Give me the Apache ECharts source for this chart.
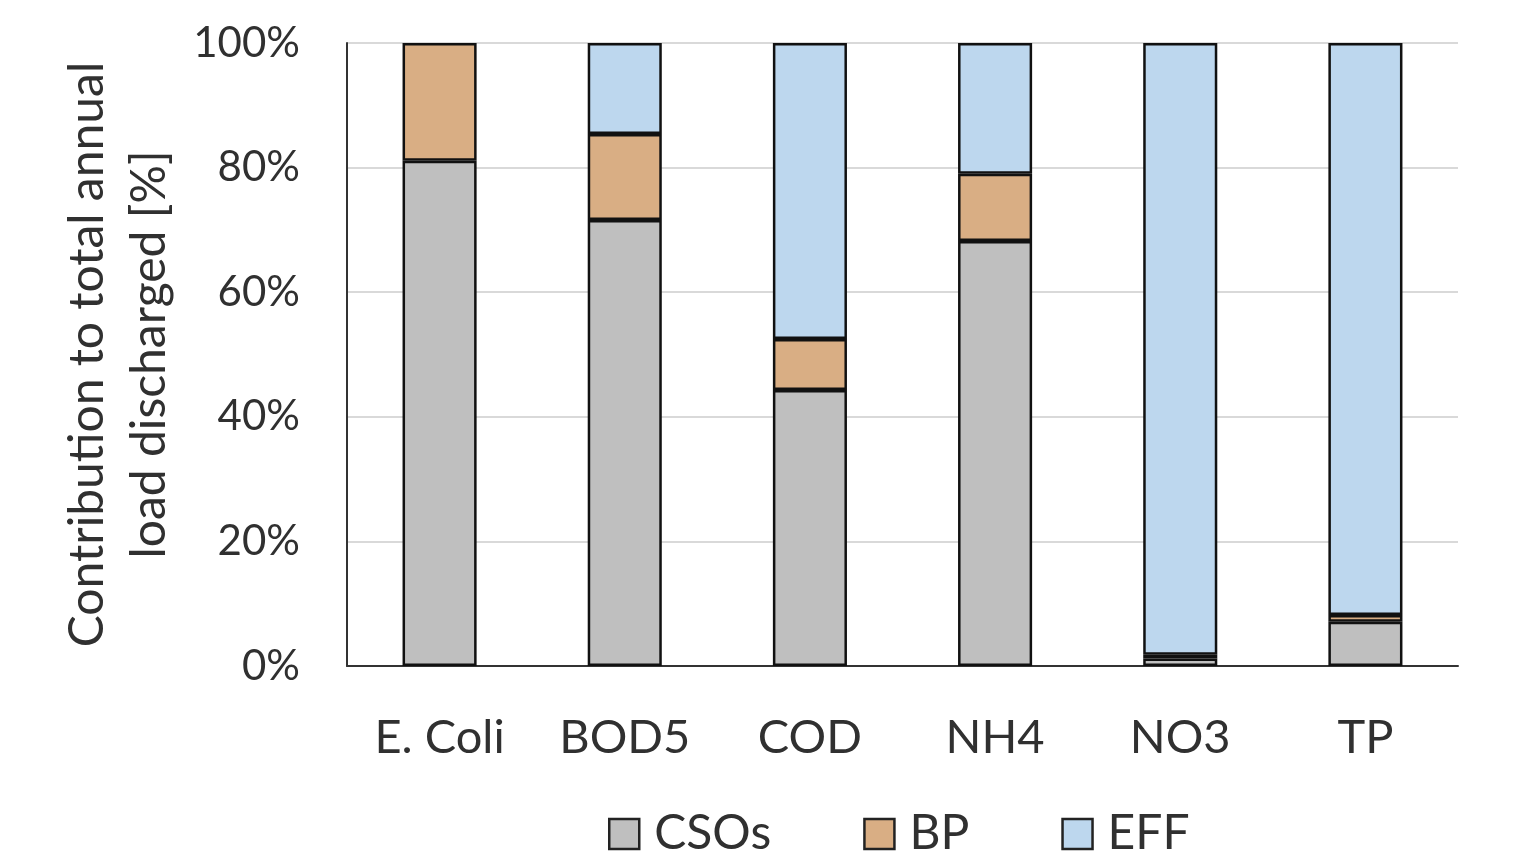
<!DOCTYPE html>
<html><head><meta charset="utf-8">
<script src="https://cdn.jsdelivr.net/npm/echarts@6/dist/echarts.min.js"></script>
<style>html,body{margin:0;padding:0;background:#fff}#c{width:1520px;height:859px}</style>
</head><body><div id="c"></div>
<script>
const categories = ['E. Coli', 'BOD5', 'COD', 'NH4', 'NO3', 'TP'];
const csos = [81.1, 71.6, 44.3, 68.2, 1.2, 7.1];
const bp = [18.9, 13.8, 8.2, 10.8, 0.6, 1.1];
const eff = [null, 14.6, 47.5, 21.0, 98.2, 91.8];
const seriesNames = ['CSOs', 'BP', 'EFF'];
const yTicks = [0, 20, 40, 60, 80, 100];

const font = 'Lato, "Open Sans", sans-serif';
const txt = '#303030';
const colors = ['#BFBFBF', '#D9AE84', '#BDD7EE'];
const chart = echarts.init(document.getElementById('c'));
const mk = (name, data, i) => ({
  name, type: 'bar', stack: 's', data, barWidth: '40%',
  itemStyle: { color: colors[i], borderColor: '#111', borderWidth: 2.5 }
});
chart.setOption({
  animation: false,
  grid: { left: 347, right: 62, top: 43, bottom: 193, outerBoundsMode: 'none', containLabel: false },
  legend: {
    top: 805, left: 603, itemWidth: 30, itemHeight: 30, itemGap: 92,
    icon: 'rect',
    itemStyle: { borderColor: '#222', borderWidth: 2.5 },
    textStyle: { fontFamily: font, fontSize: 48, color: txt, padding: [0, 0, 0, 10] },
    data: seriesNames
  },
  xAxis: {
    type: 'category', data: categories,
    axisLine: { lineStyle: { color: '#333', width: 2 } },
    axisTick: { show: false },
    axisLabel: { fontFamily: font, fontSize: 47, color: txt, margin: 48 }
  },
  yAxis: {
    type: 'value', min: 0, max: 100, interval: 20,
    name: 'Contribution to total annual\nload discharged [%]',
    nameLocation: 'middle', nameGap: 166,
    nameTextStyle: { fontFamily: font, fontSize: 48, color: txt, lineHeight: 62 },
    axisLine: { show: true, lineStyle: { color: '#333', width: 2 } },
    axisTick: { show: false },
    splitLine: { lineStyle: { color: '#d9d9d9', width: 2 } },
    axisLabel: { fontFamily: font, fontSize: 42, color: txt, margin: 47,
      formatter: v => yTicks.includes(v) ? v + '%' : '' }
  },
  series: [mk('CSOs', csos, 0), mk('BP', bp, 1), mk('EFF', eff, 2)]
});
</script></body></html>
